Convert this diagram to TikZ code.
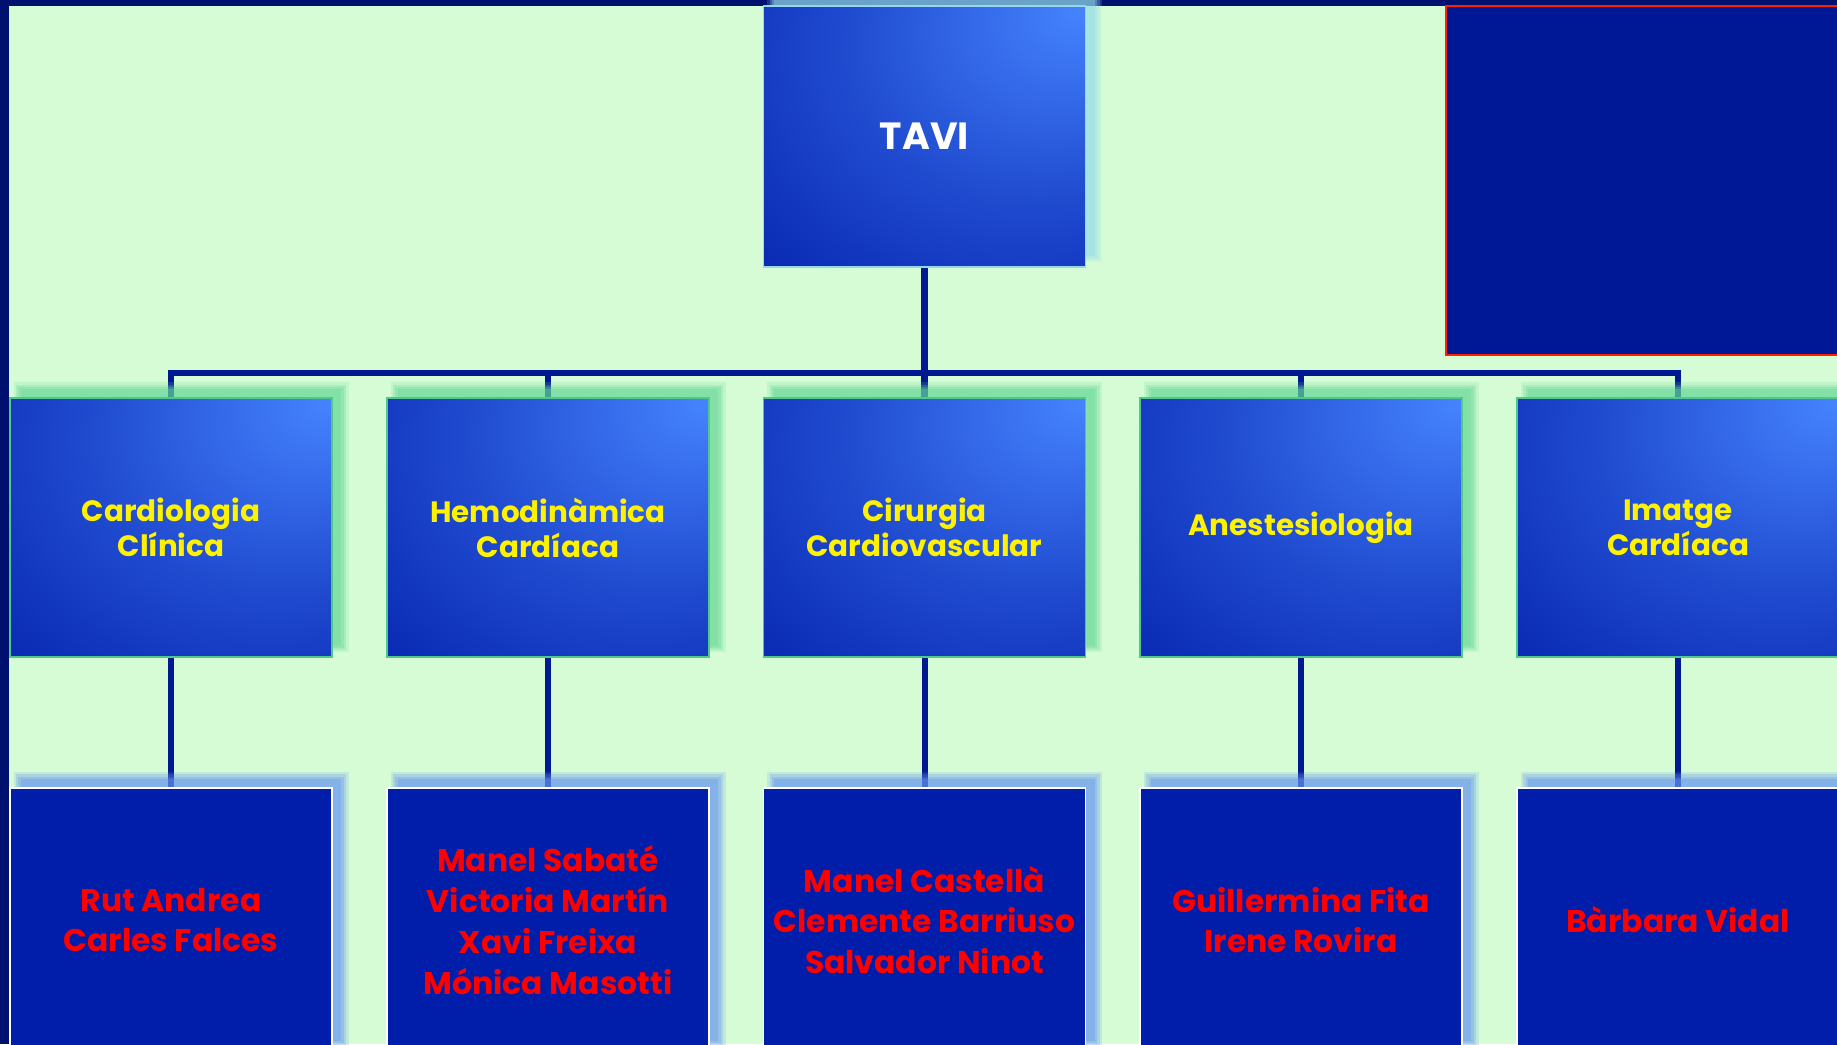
\documentclass[tikz,border=0pt]{standalone}
\usepackage{fontspec}
\setmainfont{Poppins}
\usetikzlibrary{shadows,backgrounds}

\definecolor{framenavy}{RGB}{0,16,110}
\definecolor{pagegreen}{RGB}{214,252,214}
\definecolor{boxdark}{RGB}{0,28,168}
\definecolor{boxlight}{RGB}{70,132,255}
\definecolor{staffblue}{RGB}{0,30,170}
\definecolor{linknavy}{RGB}{0,24,144}
\definecolor{unitline}{RGB}{80,200,140}
\definecolor{glowgreen}{RGB}{100,215,150}
\definecolor{glowblue}{RGB}{100,150,240}
\definecolor{glowcyan}{RGB}{150,220,235}
\definecolor{headline}{RGB}{150,215,240}
\definecolor{emptynavy}{RGB}{0,24,150}
\definecolor{emptyred}{RGB}{255,32,0}

\pgfdeclareradialshading{cornerglow}{\pgfpoint{25bp}{25bp}}{color(0bp)=(boxlight); color(30bp)=(boxlight!45!boxdark); color(62bp)=(boxdark); color(100bp)=(boxdark)}

\tikzset{
  glow/.style={general shadow={fill=#1,opacity=.18,shadow xshift=10bp,shadow yshift=10bp,shadow scale=1.04},
               general shadow={fill=#1,opacity=.25,shadow xshift=10bp,shadow yshift=10bp,shadow scale=1.025},
               general shadow={fill=#1,opacity=.3,shadow xshift=10bp,shadow yshift=10bp,shadow scale=1.01},
               general shadow={fill=#1,opacity=.35,shadow xshift=10bp,shadow yshift=10bp,shadow scale=.995}},
  box/.style={rectangle,minimum width=322bp,minimum height=259bp,inner sep=0pt,align=center},
  head/.style={box,minimum height=261bp,shade,shading=cornerglow,draw=headline,line width=1.2bp,glow=glowcyan,
               text=white,font=\bfseries\fontsize{38}{44}\selectfont},
  unit/.style={box,shade,shading=cornerglow,draw=unitline,line width=1.2bp,glow=glowgreen,
               text=yellow,font=\bfseries\fontsize{29.5}{35}\selectfont},
  staff/.style={box,minimum height=264bp,fill=staffblue,draw=white,line width=1.5bp,glow=glowblue,
                text=red,font=\bfseries\fontsize{31.5}{41}\selectfont},
  link/.style={draw=linknavy,line width=6.5bp}
}

\begin{document}
\begin{tikzpicture}[x=1bp,y=-1bp]
  \useasboundingbox (0,0) rectangle (1837,1044);
  \begin{scope}[on background layer]
    \fill[framenavy] (0,0) rectangle (1837,1044);
    \fill[pagegreen] (9,6) rectangle (1837,1044);
    \draw[line width=2.5bp,draw=emptyred,fill=emptynavy] (1446,6) rectangle (1870,355);
  \end{scope}

  \node[head] (tavi) at (924.5,136.5) {TAVI};

  \node[unit] (cc) at (171,527.5) {Cardiologia\\Clínica};
  \node[unit] (hc) at (548,527.5) {Hemodinàmica\\Cardíaca};
  \node[unit] (cv) at (924.5,527.5) {Cirurgia\\Cardiovascular};
  \node[unit] (an) at (1301,527.5) {Anestesiologia};
  \node[unit] (ic) at (1678,527.5) {Imatge\\Cardíaca};

  \node[staff] (cc-s) at (171,920) {Rut Andrea\\Carles Falces};
  \node[staff] (hc-s) at (548,920) {Manel Sabaté\\Victoria Martín\\Xavi Freixa\\Mónica Masotti};
  \node[staff] (cv-s) at (924.5,920) {Manel Castellà\\Clemente Barriuso\\Salvador Ninot};
  \node[staff] (an-s) at (1301,920) {Guillermina Fita\\Irene Rovira};
  \node[staff] (ic-s) at (1678,920) {Bàrbara Vidal};

  \coordinate (bar) at (924.5,373);
  \begin{scope}[on background layer]
    \draw[link] (tavi) -- (cv);
    \draw[link] (cc.north) |- (bar) -| (ic.north);
    \foreach \u in {hc,an} \draw[link] (\u.north) -- (\u.north |- bar);
    \foreach \u in {cc,hc,cv,an,ic} \draw[link,line width=6bp] (\u) -- (\u-s);
  \end{scope}
\end{tikzpicture}
\end{document}
